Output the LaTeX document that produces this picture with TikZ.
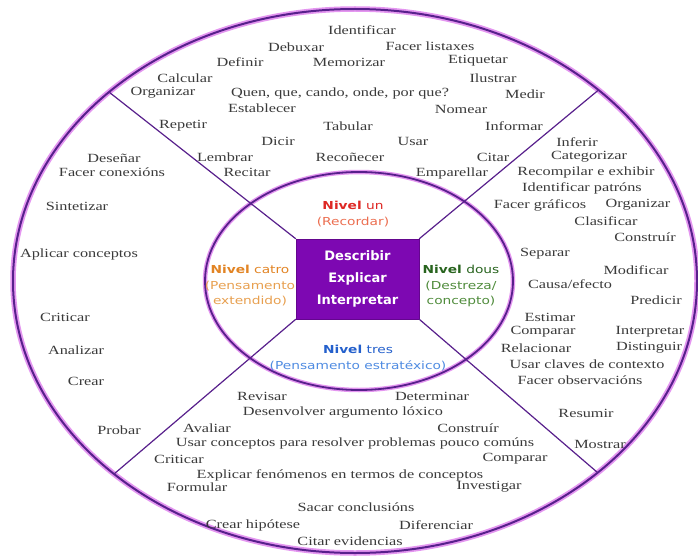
\documentclass[tikz,border=0pt]{standalone}
\usepackage{fontspec}
\newfontfamily\wordfont{Liberation Serif}[FakeStretch=1.3]
\newfontfamily\levelfont{DejaVu Sans}[FakeStretch=1.25]
\newfontfamily\corefont{DejaVu Sans}
\usepackage{xcolor}
\definecolor{wheelline}{RGB}{88,32,140}
\definecolor{wheelglow}{RGB}{228,150,240}
\definecolor{coreviolet}{RGB}{125,8,178}
\definecolor{wordgray}{RGB}{58,58,58}
\definecolor{onedark}{RGB}{222,40,36}
\definecolor{onelight}{RGB}{236,110,80}
\definecolor{twodark}{RGB}{40,100,30}
\definecolor{twolight}{RGB}{80,140,60}
\definecolor{threedark}{RGB}{36,96,204}
\definecolor{threelight}{RGB}{80,140,226}
\definecolor{fourdark}{RGB}{226,132,36}
\definecolor{fourlight}{RGB}{232,160,80}
\usetikzlibrary{calc}

\tikzset{
  word/.style={font=\wordfont\fontsize{12.5}{12.5}\selectfont, text=wordgray, inner sep=0pt},
  level/.style={font=\levelfont\fontsize{11}{15.5}\selectfont, align=center, inner sep=0pt},
  ringglow/.style={draw=wheelglow, line width=5.5pt},
  ring/.style={draw=wheelline, line width=2pt},
  divider/.style={draw=wheelline, line width=1.2pt},
  corebox/.style={fill=coreviolet, draw=coreviolet!80!black, minimum width=123pt, minimum height=80pt,
    inner sep=0pt, align=center, text=white, font=\corefont\bfseries\fontsize{13}{22}\selectfont}
}

\begin{document}
\begin{tikzpicture}[x=1pt, y=-1pt]

\fill[white] (0,0) rectangle (698,559);
\useasboundingbox (0,0) rectangle (698,559);

\coordinate (c) at (355,281);
\coordinate (ci) at (359,281);

\draw[ringglow] (c) ellipse [x radius=342pt, y radius=272pt];
\draw[ringglow, line width=4.5pt] (ci) ellipse [x radius=154pt, y radius=109pt];

\node[corebox] (core) at (357.5,279) {Describir\\Explicar\\Interpretar};

\coordinate (rimNW) at ($(c)+(136:342pt and 272pt)$);
\coordinate (rimNE) at ($(c)+(44.6:342pt and 272pt)$);
\coordinate (rimSE) at ($(c)+(-44.8:342pt and 272pt)$);
\coordinate (rimSW) at ($(c)+(-134.8:342pt and 272pt)$);

\draw[divider] (core.north west) -- (rimNW);
\draw[divider] (core.north east) -- (rimNE);
\draw[divider] (core.south east) -- (rimSE);
\draw[divider] (core.south west) -- (rimSW);

\draw[ring] (c) ellipse [x radius=342pt, y radius=272pt];
\draw[ring, line width=1.8pt] (ci) ellipse [x radius=154pt, y radius=109pt];

\node[level] (nivelun) at (353,214) {{\color{onedark}\textbf{Nivel} un}\\{\color{onelight}(Recordar)}};
\node[level] (niveldous) at (461,286) {{\color{twodark}\textbf{Nivel} dous}\\{\color{twolight}(Destreza/}\\{\color{twolight}concepto)}};
\node[level] (niveltres) at (358,358) {{\color{threedark}\textbf{Nivel} tres}\\{\color{threelight}(Pensamento estratéxico)}};
\node[level] (nivelcatro) at (250,286) {{\color{fourdark}\textbf{Nivel} catro}\\{\color{fourlight}(Pensamento}\\{\color{fourlight}extendido)}};

\node[word] (identificar) at (362,30) {Identificar};
\node[word] (debuxar) at (296,47) {Debuxar};
\node[word] (listaxes) at (430,46) {Facer listaxes};
\node[word] (definir) at (240,62) {Definir};
\node[word] (memorizar) at (349,62) {Memorizar};
\node[word] (etiquetar) at (478,61) {Etiquetar};
\node[word] (calcular) at (185,78) {Calcular};
\node[word] (ilustrar) at (493,78) {Ilustrar};
\node[word] (organizar1) at (163,93) {Organizar};
\node[word] (quen) at (340,93) {Quen, que, cando, onde, por que?};
\node[word] (medir) at (525,94) {Medir};
\node[word] (establecer) at (262,108) {Establecer};
\node[word] (nomear) at (461,109) {Nomear};
\node[word] (repetir) at (183,126) {Repetir};
\node[word] (tabular) at (348,126) {Tabular};
\node[word] (informar) at (514,126) {Informar};
\node[word] (dicir) at (278,141) {Dicir};
\node[word] (usar) at (413,141) {Usar};
\node[word] (lembrar) at (225,157) {Lembrar};
\node[word] (reconecer) at (350,157) {Recoñecer};
\node[word] (citar) at (493,157) {Citar};
\node[word] (recitar) at (247,172) {Recitar};
\node[word] (emparellar) at (452,173) {Emparellar};

\node[word] (inferir) at (577,142) {Inferir};
\node[word] (categorizar) at (589,157) {Categorizar};
\node[word] (recompilar) at (586,172) {Recompilar e exhibir};
\node[word] (patrons) at (582,188) {Identificar patróns};
\node[word] (graficos) at (540,205) {Facer gráficos};
\node[word] (organizar2) at (638,205) {Organizar};
\node[word] (clasificar) at (606,221) {Clasificar};
\node[word] (construir1) at (645,237) {Construír};
\node[word] (separar) at (545,254) {Separar};
\node[word] (modificar) at (636,270) {Modificar};
\node[word] (causa) at (570,284) {Causa/efecto};
\node[word] (predicir) at (656,300) {Predicir};
\node[word] (estimar) at (550,317) {Estimar};
\node[word] (comparar1) at (543,332) {Comparar};
\node[word] (interpretar) at (650,332) {Interpretar};
\node[word] (relacionar) at (536,348) {Relacionar};
\node[word] (distinguir) at (649,348) {Distinguir};
\node[word] (claves) at (587,364) {Usar claves de contexto};
\node[word] (observacions) at (580,380) {Facer observacións};
\node[word] (resumir) at (586,413) {Resumir};
\node[word] (mostrar) at (600,444) {Mostrar};

\node[word] (revisar) at (262,396) {Revisar};
\node[word] (determinar) at (432,396) {Determinar};
\node[word] (argumento) at (343,412) {Desenvolver argumento lóxico};
\node[word] (avaliar) at (207,428) {Avaliar};
\node[word] (construir2) at (468,428) {Construír};
\node[word] (problemas) at (355,443) {Usar conceptos para resolver problemas pouco comúns};
\node[word] (criticar2) at (179,459) {Criticar};
\node[word] (comparar2) at (515,459) {Comparar};
\node[word] (fenomenos) at (340,475) {Explicar fenómenos en termos de conceptos};
\node[word] (formular) at (197,487) {Formular};
\node[word] (investigar) at (489,487) {Investigar};
\node[word] (conclusions) at (356,507) {Sacar conclusións};
\node[word] (hipotese) at (253,525) {Crear hipótese};
\node[word] (diferenciar) at (436,525) {Diferenciar};
\node[word] (evidencias) at (350,541) {Citar evidencias};

\node[word] (desenar) at (114,158) {Deseñar};
\node[word] (conexions) at (112,172) {Facer conexións};
\node[word] (sintetizar) at (77,206) {Sintetizar};
\node[word] (aplicar) at (79,254) {Aplicar conceptos};
\node[word] (criticar1) at (65,317) {Criticar};
\node[word] (analizar) at (76,350) {Analizar};
\node[word] (crear) at (86,381) {Crear};
\node[word] (probar) at (119,430) {Probar};

\end{tikzpicture}
\end{document}
